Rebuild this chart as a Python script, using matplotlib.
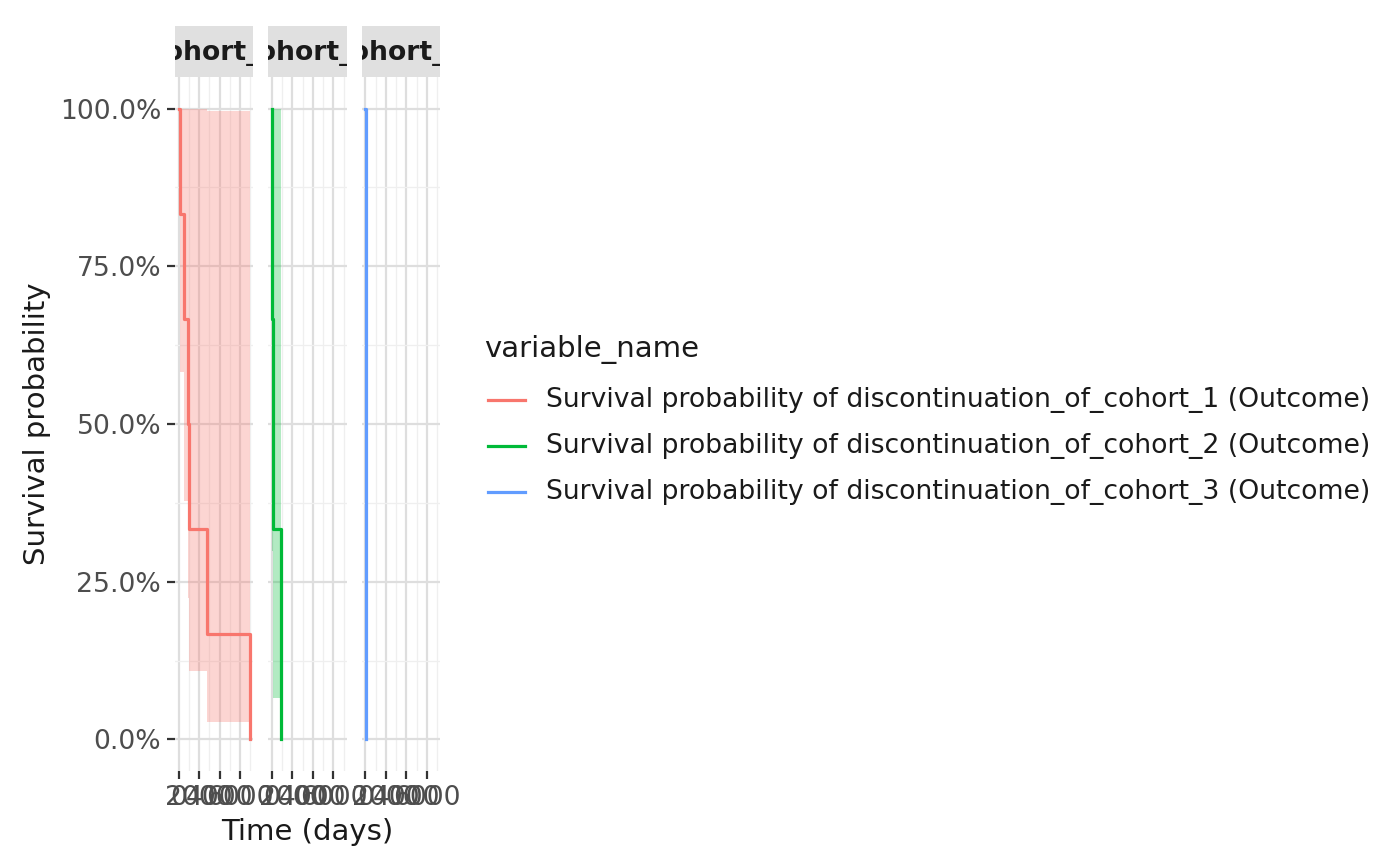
import matplotlib
matplotlib.use("Agg")
import matplotlib.pyplot as plt
from matplotlib.lines import Line2D
from matplotlib.ticker import FuncFormatter, MultipleLocator
import numpy as np

# Kaplan-Meier estimates (time in days)
cohorts = ["cohort_1", "cohort_2", "cohort_3"]

c1_time = [0, 97, 552, 939, 1065, 2749, 6941]
c1_surv = [1.0, 5/6, 4/6, 3/6, 2/6, 1/6, 0.0]
c1_lower = [1.0, 0.582, 0.378, 0.224, 0.108, 0.027, 0.0]
c1_upper = [1.0, 1.0, 1.0, 1.0, 1.0, 0.996, 0.0]

c2_time = [0, 2, 135, 842]
c2_surv = [1.0, 2/3, 1/3, 0.0]
c2_lower = [1.0, 0.298, 0.066, 0.0]
c2_upper = [1.0, 1.0, 1.0, 0.0]

c3_time = [0, 70]
c3_surv = [1.0, 0.0]

legend_labels = [
    "Survival probability of discontinuation_of_cohort_1 (Outcome)",
    "Survival probability of discontinuation_of_cohort_2 (Outcome)",
    "Survival probability of discontinuation_of_cohort_3 (Outcome)",
]
colours = ["#F8766D", "#00BA38", "#619CFF"]

x_breaks = [0, 2000, 4000, 6000]
y_breaks = [0, 0.25, 0.5, 0.75, 1.0]

series = [
    (c1_time, c1_surv, c1_lower, c1_upper),
    (c2_time, c2_surv, c2_lower, c2_upper),
    (c3_time, c3_surv, None, None),
]

W, H = 1400, 866
fig = plt.figure(figsize=(7, 4.33), dpi=200)

TXT = 9.6     # tick / legend text
TITLE = 10.5  # axis and legend titles

# panel boxes in pixels (left, right), shared vertical extent
panel_lr = [(175, 253.3), (268.3, 346.7), (361.7, 440)]
p_top, p_bot = 77, 771
s_top = 26

t_max = max(max(c1_time), max(c2_time), max(c3_time))
xlim = (-0.05 * t_max, 1.05 * t_max)

for i, (l, r) in enumerate(panel_lr):
    ax = fig.add_axes([l / W, 1 - p_bot / H, (r - l) / W, (p_bot - p_top) / H])
    ax.set_facecolor("white")
    for s in ax.spines.values():
        s.set_visible(False)

    t, s_, lo, up = series[i]
    if lo is not None:
        ax.fill_between(t, lo, up, step="post", color=colours[i], alpha=0.3, linewidth=0)
    ax.step(t, s_, where="post", color=colours[i], linewidth=1.15)

    ax.set_xlim(xlim)
    ax.set_ylim(-0.05, 1.05)
    ax.set_xticks(x_breaks)
    ax.set_xticklabels([str(b) for b in x_breaks])
    ax.xaxis.set_minor_locator(MultipleLocator(1000))
    ax.set_yticks(y_breaks)
    ax.yaxis.set_minor_locator(MultipleLocator(0.125))
    ax.yaxis.set_major_formatter(FuncFormatter(lambda v, p: f"{v * 100:.1f}%"))
    ax.grid(which="major", color="#DEDEDE", linewidth=0.8)
    ax.grid(which="minor", color="#EFEFEF", linewidth=0.45)
    ax.set_axisbelow(True)
    ax.tick_params(which="major", length=2.75, width=0.8, color="#333333",
                   labelsize=TXT, labelcolor="#4D4D4D", pad=2.2)
    ax.tick_params(which="minor", length=0)
    if i > 0:
        ax.tick_params(axis="y", left=False, labelleft=False)

    # facet strip
    sax = fig.add_axes([l / W, 1 - p_top / H, (r - l) / W, (p_top - s_top) / H])
    sax.set_facecolor("#E0E0E0")
    sax.set_xticks([])
    sax.set_yticks([])
    for s in sax.spines.values():
        s.set_visible(False)
    sax.text(0.5, 0.47, cohorts[i], transform=sax.transAxes, ha="center", va="center",
             fontsize=TXT, fontweight="bold", color="#1A1A1A", clip_on=True)

fig.text(307 / W, 1 - 832 / H, "Time (days)", ha="center", va="center",
         fontsize=TITLE, color="#1A1A1A")
fig.text(37 / W, 1 - 424 / H, "Survival probability", ha="center", va="center",
         rotation=90, fontsize=TITLE, color="#1A1A1A")

# legend, laid out like the ggplot guide
fig.text(484 / W, 1 - 350 / H, "variable_name", ha="left", va="center",
         fontsize=TITLE, color="#1A1A1A")
for k, (lab, c) in enumerate(zip(legend_labels, colours)):
    yk = 1 - (400 + 46 * k) / H
    fig.add_artist(Line2D([488 / W, 525 / W], [yk, yk], color=c, linewidth=1.15))
    fig.text(546 / W, yk, lab, ha="left", va="center", fontsize=TXT, color="#1A1A1A")

fig.savefig("out.png", dpi=200, facecolor="white")
